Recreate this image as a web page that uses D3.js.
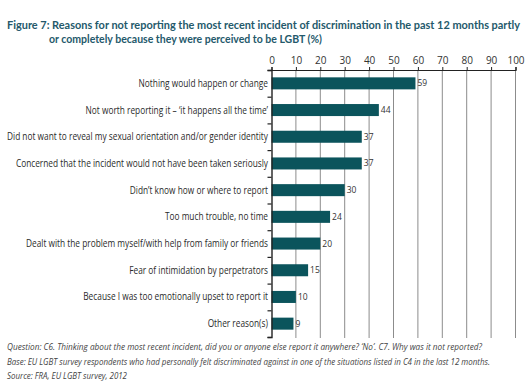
<!DOCTYPE html>
<html>
<head>
<meta charset="utf-8">
<script src="https://cdn.jsdelivr.net/npm/d3@7"></script>
<style>
  body { margin: 0; background: #fff; }
  svg { display: block; }
</style>
</head>
<body>
<svg id="chart" width="531" height="386"></svg>
<script>
// data
const reasons = [
  'Nothing would happen or change',
  'Not worth reporting it \u2013 \u2018it happens all the time\u2019',
  'Did not want to reveal my sexual orientation and/or gender identity',
  'Concerned that the incident would not have been taken seriously',
  'Didn\u2019t know how or where to report',
  'Too much trouble, no time',
  'Dealt with the problem myself/with help from family or friends',
  'Fear of intimidation by perpetrators',
  'Because I was too emotionally upset to report it',
  'Other reason(s)'
];
const shares = [59, 44, 37, 37, 30, 24, 20, 15, 10, 9];
const tickValues = [0, 10, 20, 30, 40, 50, 60, 70, 80, 90, 100];
const titleLines = [
  'Figure 7: Reasons for not reporting the most recent incident of discrimination in the past 12 months partly',
  'or completely because they were perceived to be LGBT (%)'
];
const notes = [
  'Question: C6. Thinking about the most recent incident, did you or anyone else report it anywhere? \u2018No\u2019. C7. Why was it not reported?',
  'Base: EU LGBT survey respondents who had personally felt discriminated against in one of the situations listed in C4 in the last 12 months.',
  'Source: FRA, EU LGBT survey, 2012'
];

const svg = d3.select('#chart');
const barColor = '#0b545c';
const plotTop = 70, plotBottom = 337, plotLeft = 271.5, plotRight = 515.5;

const x = d3.scaleLinear().domain([0, 100]).range([plotLeft, plotRight]);
const y = d3.scaleBand().domain(reasons).range([plotTop, plotBottom]).paddingInner(0.55).paddingOuter(0.275);

// title
svg.append('text').attr('x', 7).attr('y', 29).text(titleLines[0])
  .attr('font-family', 'Lato, sans-serif').attr('font-weight', 'bold').attr('font-size', 11.5)
  .attr('fill', '#24596b').attr('textLength', 513).attr('lengthAdjust', 'spacingAndGlyphs');
svg.append('text').attr('x', 49).attr('y', 43).text(titleLines[1])
  .attr('font-family', 'Lato, sans-serif').attr('font-weight', 'bold').attr('font-size', 11.5)
  .attr('fill', '#24596b').attr('textLength', 273).attr('lengthAdjust', 'spacingAndGlyphs');

// gridlines
svg.append('g').selectAll('line').data(tickValues.slice(1)).join('line')
  .attr('x1', d => x(d)).attr('x2', d => x(d))
  .attr('y1', plotTop).attr('y2', plotBottom + 1)
  .attr('stroke', '#8c8c8c').attr('stroke-width', 1);

// top axis
const xAxis = svg.append('g').attr('transform', 'translate(0,' + plotTop + ')')
  .call(d3.axisTop(x).tickValues(tickValues).tickSize(3).tickPadding(3));
xAxis.select('.domain').attr('stroke', '#222').attr('stroke-width', 1.2);
xAxis.selectAll('.tick line').attr('stroke', '#222');
xAxis.selectAll('text').attr('font-family', '"Open Sans", sans-serif').attr('font-size', 10).attr('fill', '#333');

// bars
svg.append('g').selectAll('rect').data(shares).join('rect')
  .attr('x', x(0)).attr('y', (d, i) => y(reasons[i]))
  .attr('width', d => x(d) - x(0)).attr('height', y.bandwidth())
  .attr('fill', barColor);

// value labels
svg.append('g').selectAll('text').data(shares).join('text')
  .attr('x', d => x(d) + 2).attr('y', (d, i) => y(reasons[i]) + y.bandwidth() / 2 + 3)
  .text(d => d)
  .attr('font-family', '"Liberation Sans Narrow", "Open Sans", sans-serif').attr('font-size', 8.5).attr('fill', '#333');

// left axis with boundary ticks
const yb = d3.scaleLinear().domain([0, reasons.length]).range([plotTop, plotBottom]);
const leftAxis = svg.append('g').attr('transform', 'translate(' + plotLeft + ',0)')
  .call(d3.axisLeft(yb).ticks(10).tickSize(4).tickFormat(''));
leftAxis.select('.domain').attr('stroke', '#222').attr('stroke-width', 1.4);
leftAxis.selectAll('.tick line').attr('stroke', '#222').attr('stroke-width', 1.2);

// category labels - condensed face in the original, so squeeze to fit
const labels = svg.append('g').selectAll('text').data(reasons).join('text')
  .attr('x', 268).attr('y', d => y(d) + y.bandwidth() / 2 + 3.5)
  .attr('text-anchor', 'end').text(d => d)
  .attr('font-family', '"Open Sans", sans-serif').attr('font-size', 10)
  .attr('fill', '#2a2a2a');
let widest = 0;
labels.each(function() { widest = Math.max(widest, this.getComputedTextLength()); });
const squeeze = 261 / widest;
labels.each(function() {
  d3.select(this).attr('textLength', this.getComputedTextLength() * squeeze).attr('lengthAdjust', 'spacingAndGlyphs');
});

// notes
const noteWidths = [475, 483, 120];
svg.append('g').selectAll('text').data(notes).join('text')
  .attr('x', 7).attr('y', (d, i) => 350 + i * 14.5)
  .text(d => d)
  .attr('font-family', '"Open Sans", sans-serif').attr('font-style', 'italic').attr('font-size', 8.3)
  .attr('fill', '#444')
  .attr('textLength', (d, i) => noteWidths[i]).attr('lengthAdjust', 'spacingAndGlyphs');
</script>
</body>
</html>
